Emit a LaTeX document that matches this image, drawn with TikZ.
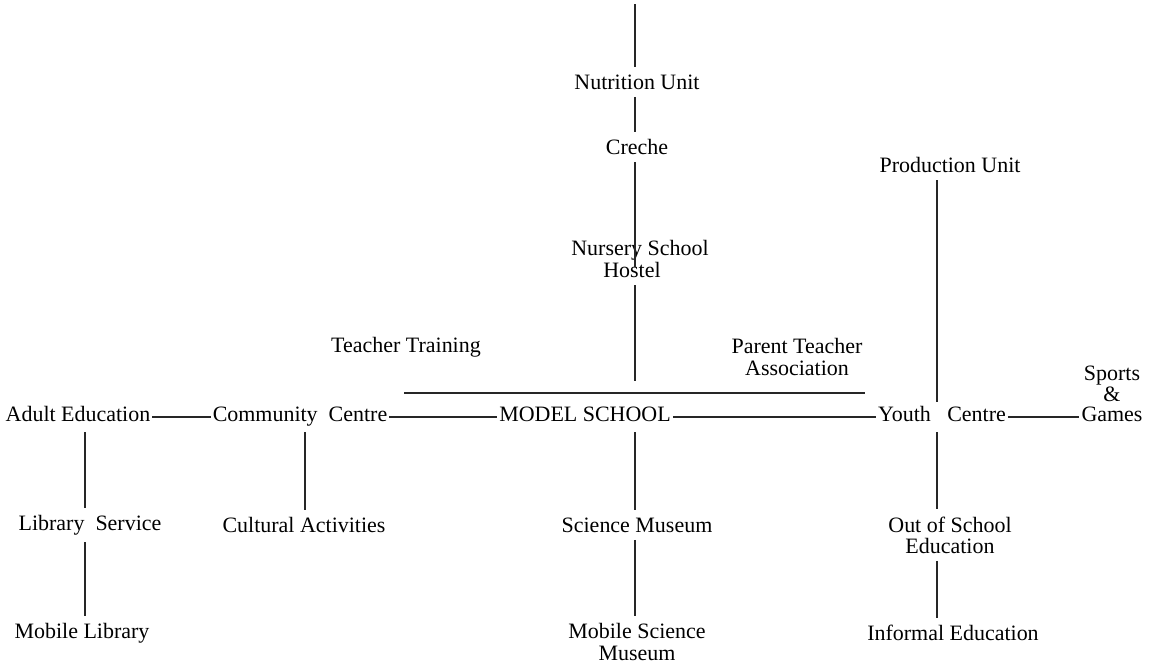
\documentclass[tikz,border=0pt]{standalone}
\usepackage{fontspec}
\setmainfont{Liberation Serif}

\begin{document}
\begin{tikzpicture}[x=0.02cm,y=-0.02cm,
  unit/.style={inner xsep=1pt,inner ysep=4pt,align=center,font=\fontsize{12.5}{12}\selectfont},
  row/.style={unit,text height=0.7em,text depth=0.2em},
  link/.style={draw=black!85,line width=0.6pt}]
  \useasboundingbox (0,0) rectangle (1164,666);
  % columns the vertical links run on
  \coordinate (colA) at (85,0);
  \coordinate (colC) at (305,0);
  \coordinate (colM) at (635,0);
  \coordinate (colY) at (937,0);
  % units above the school
  \coordinate (top) at (635,4);
  \node[unit] (nutr) at (637,82) {Nutrition Unit};
  \node[unit] (creche) at (637,147) {Creche};
  \node[unit] (nursery) at (640,250) {Nursery School};
  \node[unit] (hostel) at (632,270) {Hostel};
  \coordinate (hostelEnd) at (635,381);
  \node[unit] (teach) at (406,347) {Teacher Training};
  \node[unit] (pta) at (797,357) {Parent Teacher\\Association};
  \node[unit] (produ) at (950,165) {Production Unit};
  \coordinate (barL) at (404,393);
  \coordinate (barR) at (865,393);
  % main row
  \node[row] (adult) at (78,417) {Adult Education};
  \node[row] (comm) at (300,417) {Community\ \ Centre};
  \node[row] (model) at (585,417) {MODEL SCHOOL};
  \node[row] (youth) at (942,417) {Youth\ \ \ Centre};
  \node[row] (games) at (1112,417) {Games};
  \node[unit,anchor=south,inner ysep=0pt] (sports) at (games.north) {Sports\\\&};
  % units below the school
  \node[unit] (libsvc) at (90,525) {Library\ \ Service};
  \node[unit] (cult) at (304,525) {Cultural Activities};
  \node[unit] (scimus) at (637,525) {Science Museum};
  \node[unit] (oos) at (950,535) {Out of School\\Education};
  \node[unit] (mobLib) at (82,633) {Mobile Library};
  \node[unit] (mobSci) at (637,642) {Mobile Science\\Museum};
  \node[unit] (informal) at (953,633) {Informal Education};
  % spine of the school
  \draw[link] (top) -- (nutr.north -| colM);
  \draw[link] (nutr.south -| colM) -- (creche.north -| colM);
  \draw[link] (creche.south -| colM) -- (nursery.south -| colM);
  \draw[link] (hostel.south -| colM) -- (hostelEnd);
  \draw[link] (barL) -- (barR);
  % main row
  \draw[link] (adult) -- (comm);
  \draw[link] (comm) -- (model);
  \draw[link] (model) -- (youth);
  \draw[link] (youth) -- (games);
  % branches
  \draw[link] (produ.south -| colY) -- (youth.north -| colY);
  \draw[link] (youth.south -| colY) -- (oos.north -| colY);
  \draw[link] (oos.south -| colY) -- (informal.north -| colY);
  \draw[link] (adult.south -| colA) -- (libsvc.north -| colA);
  \draw[link] (libsvc.south -| colA) -- (mobLib.north -| colA);
  \draw[link] (comm.south -| colC) -- (cult.north -| colC);
  \draw[link] (model.south -| colM) -- (scimus.north -| colM);
  \draw[link] (scimus.south -| colM) -- (mobSci.north -| colM);
\end{tikzpicture}
\end{document}
